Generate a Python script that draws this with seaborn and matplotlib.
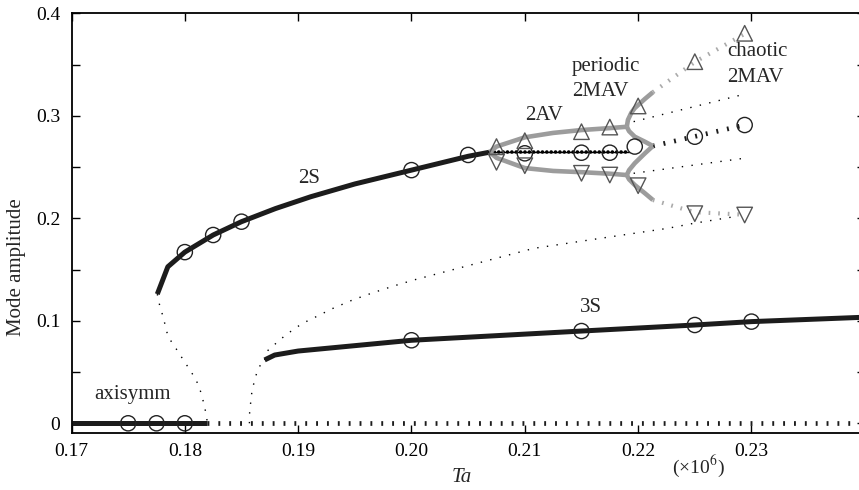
import numpy as np
import pandas as pd
import matplotlib
matplotlib.use("Agg")
import matplotlib.pyplot as plt
import seaborn as sns

# ---------------- data ----------------
axi_stable_x = [0.170, 0.182]
axi_stable_y = [0.0, 0.0]
axi_unstable_x = [0.182, 0.240]
axi_unstable_y = [0.0, 0.0]
axi_circ_x = [0.175, 0.1775, 0.180]
axi_circ_y = [0.0, 0.0, 0.0]

s2_stable_x = [0.17757, 0.17850, 0.1800, 0.1825, 0.1850, 0.1880, 0.1911, 0.1950, 0.2000, 0.2050, 0.2069]
s2_stable_y = [0.1260, 0.1527, 0.1670, 0.1837, 0.1967, 0.2095, 0.2210, 0.2335, 0.2470, 0.2605, 0.2645]
s2_unst_x = [0.17757, 0.17778, 0.17808, 0.17852, 0.17910, 0.17980, 0.18051, 0.18101, 0.18146, 0.18170, 0.18190, 0.18199]
s2_unst_y = [0.1260, 0.1150, 0.1040, 0.0845, 0.0750, 0.0630, 0.0510, 0.0420, 0.0290, 0.0180, 0.0080, 0.0]

s3_unst_low_x = [0.18570, 0.18572, 0.18593, 0.18616, 0.18646, 0.18704]
s3_unst_low_y = [0.0, 0.0113, 0.0320, 0.0420, 0.0536, 0.0618]
s3_stable_x = [0.18704, 0.18793, 0.1900, 0.2000, 0.2150, 0.2250, 0.2300, 0.2400]
s3_stable_y = [0.0618, 0.0666, 0.0705, 0.0810, 0.0900, 0.0959, 0.0992, 0.1035]
s3_circ_x = [0.200, 0.215, 0.225, 0.230]
s3_circ_y = [0.081, 0.090, 0.0959, 0.0992]

long_dot_x = [0.18704, 0.1873, 0.1881, 0.1888, 0.1896, 0.1904, 0.1913, 0.1930, 0.1948,
              0.1966, 0.1985, 0.2002, 0.2049, 0.2108, 0.2167, 0.2226, 0.2249, 0.2285]
long_dot_y = [0.0618, 0.0708, 0.0786, 0.0852, 0.0917, 0.0976, 0.1024, 0.1118, 0.1203,
              0.1274, 0.1342, 0.1398, 0.1535, 0.1707, 0.1805, 0.1902, 0.1951, 0.2016]

s2_mid_x = [0.2069, 0.2192]
s2_mid_y = [0.2645, 0.2645]
mav_mid_x = [0.2213, 0.2249, 0.2294]
mav_mid_y = [0.2705, 0.2796, 0.2910]
s2_circ_x = [0.180, 0.1825, 0.185, 0.200, 0.205, 0.210, 0.215, 0.2175, 0.2197, 0.2250, 0.2294]
s2_circ_y = [0.167, 0.1837, 0.1967, 0.247, 0.2618, 0.2634, 0.2640, 0.2640, 0.2700, 0.2796, 0.2910]

av_up_x = [0.2069, 0.2075, 0.2100, 0.2125, 0.2150, 0.2175, 0.2190]
av_up_y = [0.2645, 0.2700, 0.2790, 0.2833, 0.2861, 0.2880, 0.2893]
av_lo_x = [0.2069, 0.2075, 0.2100, 0.2125, 0.2150, 0.2175, 0.2190]
av_lo_y = [0.2645, 0.2590, 0.2490, 0.2462, 0.2450, 0.2435, 0.2422]

pm_uu_x = [0.2190, 0.2191, 0.2194, 0.2197, 0.2206, 0.2213]
pm_uu_y = [0.2893, 0.2960, 0.3030, 0.3075, 0.3165, 0.3230]
pm_ud_x = [0.2190, 0.2192, 0.2197, 0.2206, 0.2213]
pm_ud_y = [0.2893, 0.2850, 0.2796, 0.2747, 0.2705]
pm_lu_x = [0.2190, 0.2192, 0.2197, 0.2206, 0.2213]
pm_lu_y = [0.2422, 0.2470, 0.2537, 0.2634, 0.2705]
pm_ld_x = [0.2190, 0.2192, 0.2197, 0.2206, 0.2213]
pm_ld_y = [0.2422, 0.2380, 0.2325, 0.2244, 0.2179]

ch_up_x = [0.2213, 0.2250, 0.2294]
ch_up_y = [0.3230, 0.3525, 0.3800]
ch_lo_x = [0.2213, 0.2240, 0.2250, 0.2294]
ch_lo_y = [0.2179, 0.2090, 0.2060, 0.2035]

thin_up_x = [0.2196, 0.2291]
thin_up_y = [0.2943, 0.3203]
thin_lo_x = [0.2196, 0.2293]
thin_lo_y = [0.2439, 0.2585]

tri_x = [0.2075, 0.2100, 0.2150, 0.2175, 0.2200, 0.2250, 0.2294]
tri_up_y = [0.2700, 0.2757, 0.2845, 0.2890, 0.3096, 0.3528, 0.3805]
tri_dn_y = [0.2546, 0.2513, 0.2439, 0.2422, 0.2318, 0.2045, 0.2032]

x_ticks = [0.17, 0.18, 0.19, 0.20, 0.21, 0.22, 0.23, 0.24]
x_labels = ["0.17", "0.18", "0.19", "0.20", "0.21", "0.22", "0.23", ""]
y_ticks = [0.0, 0.1, 0.2, 0.3, 0.4]
y_labels = ["0", "0.1", "0.2", "0.3", "0.4"]

# ---------------- style ----------------
sns.set_theme(style="ticks")
plt.rcParams["font.family"] = ["Liberation Serif", "DejaVu Serif"]
plt.rcParams["mathtext.fontset"] = "stix"

W, H = 859, 490
fig = plt.figure(figsize=(W / 100, H / 100), dpi=100)
ax_l, ax_r, ax_t, ax_b = 71.5, 864.8, 13.3, 433.3
ax = fig.add_axes([ax_l / W, 1 - ax_b / H, (ax_r - ax_l) / W, (ax_b - ax_t) / H])

BLACK = "#1c1c1c"
GREY = "#9c9c9c"


def line(x, y, **kw):
    sns.lineplot(x=x, y=y, ax=ax, sort=False, estimator=None, legend=False, **kw)


thick = dict(color=BLACK, lw=3.6, solid_capstyle="butt")
tickdash = dict(color=BLACK, lw=3.4, linestyle=(0, (0.4, 1.9)), dash_capstyle="butt")
thin_dot = dict(color="black", lw=1.0, linestyle=(0, (1.0, 6.0)), dash_capstyle="butt")
grey_thick = dict(color=GREY, lw=3.3, solid_capstyle="butt", solid_joinstyle="round")
grey_dash = dict(color="#aaaaaa", lw=3.0, linestyle=(0, (0.4, 1.9)), dash_capstyle="butt")

# thin dotted (unstable) branches
line(s2_unst_x, s2_unst_y, **thin_dot)
line(s3_unst_low_x, s3_unst_low_y, **thin_dot)
line(long_dot_x, long_dot_y, **thin_dot)
line(thin_up_x, thin_up_y, **thin_dot)
line(thin_lo_x, thin_lo_y, **thin_dot)

# thick solid branches
line(axi_stable_x, axi_stable_y, **thick)
line(s2_stable_x, s2_stable_y, **thick)
line(s3_stable_x, s3_stable_y, **thick)

# short-dash thick lines
line(axi_unstable_x, axi_unstable_y, **tickdash)
line(mav_mid_x, mav_mid_y, **tickdash)

# beaded unstable 2S line
line(s2_mid_x, s2_mid_y, color="black", lw=1.0)
line(s2_mid_x, s2_mid_y, color="black", lw=2.6, linestyle=(0, (0.01, 1.2)), dash_capstyle="round")

# grey 2AV / periodic 2MAV
for xs, ys in [(av_up_x, av_up_y), (av_lo_x, av_lo_y), (pm_uu_x, pm_uu_y),
               (pm_ud_x, pm_ud_y), (pm_lu_x, pm_lu_y), (pm_ld_x, pm_ld_y)]:
    line(xs, ys, **grey_thick)
line(ch_up_x, ch_up_y, **grey_dash)
line(ch_lo_x, ch_lo_y, **grey_dash)

# markers
circ = dict(marker="o", s=120, facecolor="none", edgecolor="#222222", linewidth=1.0, zorder=5)
sns.scatterplot(x=axi_circ_x, y=axi_circ_y, ax=ax, legend=False, **circ)
sns.scatterplot(x=s2_circ_x, y=s2_circ_y, ax=ax, legend=False, **circ)
sns.scatterplot(x=s3_circ_x, y=s3_circ_y, ax=ax, legend=False, **circ)
tri = dict(s=125, facecolor="none", edgecolor="#555555", linewidth=1.0, zorder=5)
sns.scatterplot(x=tri_x, y=tri_up_y, ax=ax, marker="^", legend=False, **tri)
sns.scatterplot(x=tri_x, y=tri_dn_y, ax=ax, marker="v", legend=False, **tri)

# axes
ax.set_xlim(0.17, 0.24)
ax.set_ylim(-0.00976, 0.4)
ax.set_xticks(x_ticks)
ax.set_xticklabels(x_labels)
ax.set_yticks(y_ticks)
ax.set_yticklabels(y_labels)
ax.set_yticks([0.05, 0.15, 0.25, 0.35], minor=True)
ax.tick_params(which="both", direction="in", top=True, right=True, length=6,
               width=1.0, color="black", labelsize=14, labelcolor="black")
ax.tick_params(axis="x", pad=7)
ax.tick_params(axis="y", pad=8)
for sp in ax.spines.values():
    sp.set_visible(True)
    sp.set_color("black")
    sp.set_linewidth(1.3)
ax.set_xlabel("")
ax.set_ylabel("")


def ftext(px, py, s, **kw):
    fig.text(px / W, 1 - py / H, s, **kw)


ftext(17, 267, "Mode amplitude", rotation=90, ha="center", va="center", fontsize=15)
ftext(462, 477, "Ta", style="italic", ha="center", va="center", fontsize=15)
ftext(698, 466, r"(×10$^{6}$)", ha="center", va="center", fontsize=14)

ftext(132.5, 394, "axisymm", ha="center", va="center", fontsize=15)
ftext(309, 178, "2S", ha="center", va="center", fontsize=15)
ftext(591, 308, "3S", ha="center", va="center", fontsize=15)
ftext(544, 116, "2AV", ha="center", va="center", fontsize=15)
ftext(572, 66, "periodic", ha="left", va="center", fontsize=15)
ftext(572, 91, "2MAV", ha="left", va="center", fontsize=15)
ftext(727, 51, "chaotic", ha="left", va="center", fontsize=15)
ftext(727, 77, "2MAV", ha="left", va="center", fontsize=15)

fig.savefig("out.png", dpi=100)
